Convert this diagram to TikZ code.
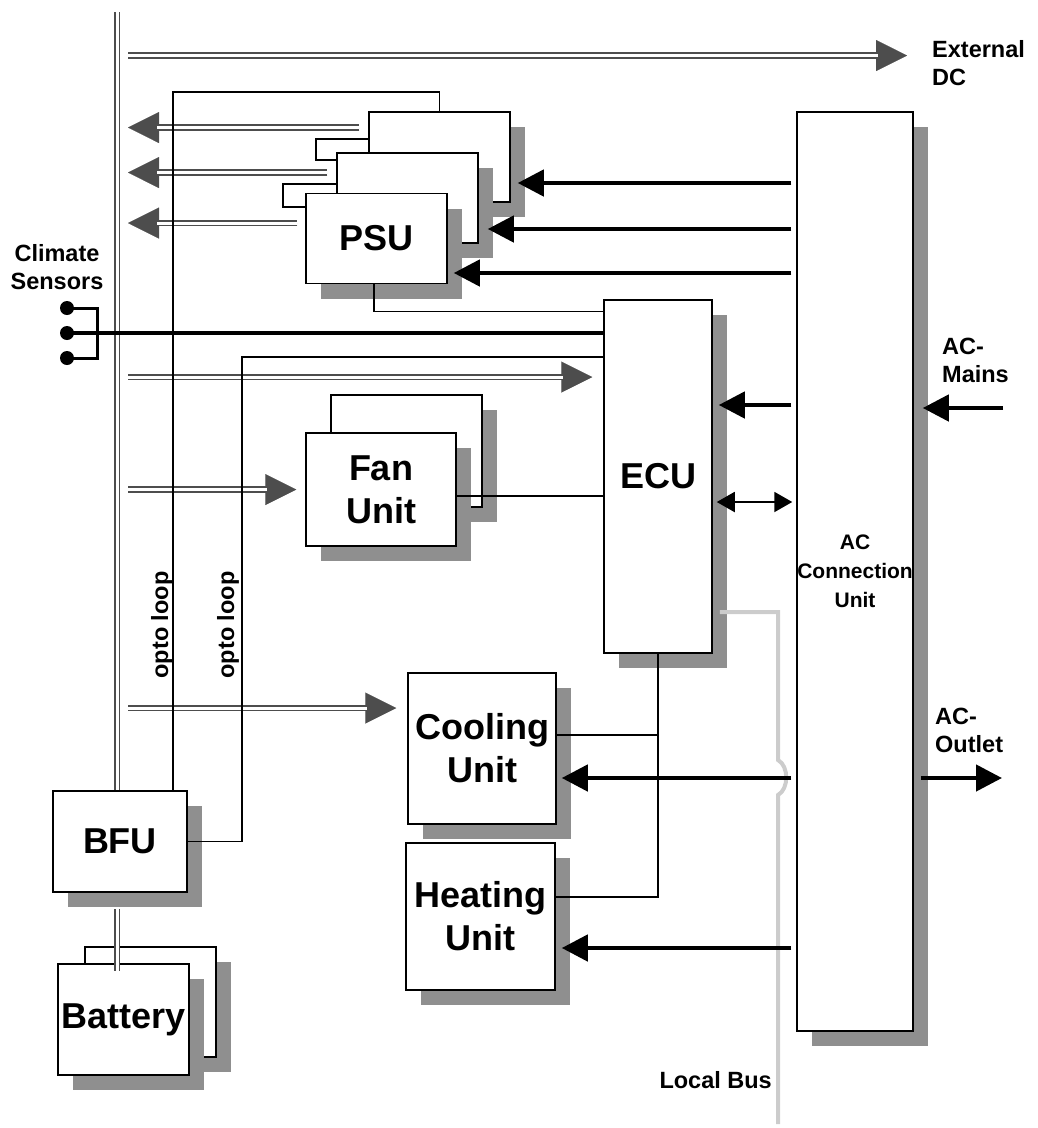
\documentclass[tikz,border=0pt]{standalone}
\usepackage{fontspec}
\setmainfont{Liberation Sans}
\usetikzlibrary{arrows.meta,shadows,calc}
\definecolor{busgray}{HTML}{4D4D4D}
\definecolor{shadowgray}{HTML}{8F8F8F}
\definecolor{lbusgray}{HTML}{CCCCCC}
\newcommand{\lblfont}{\fontsize{23.5}{28}\selectfont\bfseries}
\newcommand{\unitfont}{\fontsize{36}{43}\selectfont\bfseries}

\tikzset{
  unitbox/.style={draw, line width=1.5pt, fill=white, align=center, inner sep=2pt, font=\unitfont,
    drop shadow={shadow xshift=15pt, shadow yshift=-15pt, fill=shadowgray, opacity=1}},
  psutab/.style={draw, line width=1.5pt, fill=white, inner sep=0pt},
  bus/.style={draw=busgray, line width=1.8pt, double=white, double distance=3pt},
  busarrow/.style={draw=busgray, line width=0.01pt, -{Triangle[length=31pt,width=31pt]},
    postaction={bus, shorten >=29pt, -}},
  wire/.style={line width=1.3pt},
  feed/.style={line width=4.5pt, -{Triangle[length=26pt,width=26pt]}},
  dual/.style={line width=2pt, {Triangle[length=18pt,width=20pt]}-{Triangle[length=18pt,width=20pt]}},
  sensor/.style={line width=4.5pt},
  sensordot/.style={circle, fill, inner sep=0pt, minimum size=14pt},
  localbus/.style={draw=lbusgray, line width=4pt},
  lbl/.style={font=\lblfont, inner sep=0pt, align=left},
}

\begin{document}
\begin{tikzpicture}[x=1pt, y=-1pt]
    \useasboundingbox (0,0) rectangle (1037,1128);

    % PSU stack
    \node[psutab, minimum width=53pt, minimum height=21pt] (tabC) at (342.5,149.5) {};
    \node[unitbox, minimum width=141pt, minimum height=90pt] (psuC) at (439.5,157) {};
    \node[psutab, minimum width=54pt, minimum height=23pt] (tabB) at (310,195.5) {};
    \node[unitbox, minimum width=141pt, minimum height=90pt] (psuB) at (407.5,198) {};
    \node[unitbox, minimum width=141pt, minimum height=90pt] (psuA) at (376.5,238.5) {PSU};

    % Fan units
    \node[unitbox, minimum width=151pt, minimum height=112pt] (fanB) at (406.5,451) {};
    \node[unitbox, minimum width=150pt, minimum height=113pt] (fanA) at (381,489.5) {Fan\\Unit};

    % Control and AC units
    \node[unitbox, minimum width=108pt, minimum height=353pt] (ecu) at (658,476.5) {ECU};
    \node[unitbox, font=\fontsize{21}{29}\selectfont\bfseries, inner sep=0pt,
          minimum width=116pt, minimum height=919pt] (acu) at (855,571.5) {AC\\Connection\\Unit};
    \node[unitbox, minimum width=148pt, minimum height=151pt] (cool) at (482,748.5) {Cooling\\Unit};
    \node[unitbox, minimum width=149pt, minimum height=147pt] (heat) at (480.5,916.5) {Heating\\Unit};

    % Battery side
    \node[unitbox, minimum width=134pt, minimum height=101pt] (bfu) at (120,841.5) {BFU};
    \node[unitbox, minimum width=131pt, minimum height=110pt] (batB) at (150.5,1002) {};
    \node[unitbox, minimum width=131pt, minimum height=111pt] (batA) at (123.5,1019.5) {Battery};

    % Labels
    \node[lbl, anchor=north west] (dc) at (932,40) {External\\DC};
    \node[lbl, anchor=south, align=center] (climate) at (57,290) {Climate\\Sensors};
    \node[lbl, anchor=north west] (mains) at (942,338) {AC-\\Mains};
    \node[lbl, anchor=north west] (outlet) at (935,708) {AC-\\Outlet};
    \node[lbl, anchor=base east] (lbus) at (772,1088) {Local Bus};
    \node[lbl, rotate=90] (optoAlbl) at (162,625) {opto loop};
    \node[lbl, rotate=90] (optoBlbl) at (228,625) {opto loop};

    % Sensors
    \node[sensordot] (s1) at (67,308) {};
    \node[sensordot] (s2) at (67,333) {};
    \node[sensordot] (s3) at (67,358) {};

    % Fixed points
    \coordinate (bustop) at (117,12);
    \coordinate (tap) at (128,0);
    \coordinate (optoA) at (173,92);
    \coordinate (optoB) at (242,357);
    \coordinate (brk) at (97,333);
    \coordinate (busend) at (778,1124);
    \coordinate (mainsin) at (1003,408);
    \coordinate (outletout) at (1002,778);
    \coordinate (outC) at ($(psuC.west)+(-9,-29.5)$);
    \coordinate (outB) at ($(psuB.west)+(-9,-25.5)$);
    \coordinate (outA) at ($(psuA.west)+(-8,-15.5)$);

    % DC bus
    \draw[bus] (bustop) -- (bustop |- bfu.north);
    \draw[bus] ($(bustop |- bfu.south)+(0,16)$) -- ($(bustop |- batA.north)+(0,8)$);
    \draw[busarrow] (tap |- 0,55.5) -- ($(dc.west |- 0,55.5)+(-25,0)$);
    \draw[busarrow] (outC) -- (tap |- outC);
    \draw[busarrow] (outB) -- (tap |- outB);
    \draw[busarrow] (outA) -- (tap |- outA);
    \draw[busarrow] (tap |- 0,377) -- ($(ecu.west |- 0,377)+(-11,0)$);
    \draw[busarrow] (tap |- fanA.west) -- ($(fanA.west)+(-9,0)$);
    \draw[busarrow] (tap |- 0,708) -- ($(cool.west |- 0,708)+(-11,0)$);

    % Opto loops
    \draw[wire] (psuC.north) |- (optoA) -- (optoA |- bfu.north);
    \draw[wire] (ecu.west |- optoB) -- (optoB) |- (bfu.east);

    % Signal wires
    \draw[wire] ($(psuA.south)+(-2.5,0)$) |- (ecu.west |- 0,311.5);
    \draw[line width=3pt] (s1.center) -| (brk) |- (s3.center);
    \draw[sensor] (s2.center) -- (ecu.west |- s2);
    \draw[wire] (fanA.east |- 0,496) -- (ecu.west |- 0,496);
    \draw[wire] (heat.east |- 0,897) -| (ecu.south);
    \draw[wire] (cool.east |- 0,735) -- (ecu.south |- 0,735);

    % Local bus
    \draw[localbus] ($(ecu.east |- 0,612)+(7,0)$) -| (busend |- 0,760)
        .. controls +(11,6) and +(11,-6) .. (busend |- 0,795) -- (busend);

    % AC feeds
    \draw[feed] ($(acu.west |- psuC.east)+(-5,26)$) -- ($(psuC.east)+(7,26)$);
    \draw[feed] ($(acu.west |- psuB.east)+(-5,31)$) -- ($(psuB.east)+(9,31)$);
    \draw[feed] ($(acu.west |- psuA.east)+(-5,34.5)$) -- ($(psuA.east)+(6,34.5)$);
    \draw[feed] ($(acu.west |- 0,405)+(-5,0)$) -- ($(ecu.east |- 0,405)+(6,0)$);
    \draw[dual] ($(ecu.east |- 0,502)+(4,0)$) -- ($(acu.west |- 0,502)+(-4,0)$);
    \draw[feed] ($(acu.west |- 0,778)+(-5,0)$) -- ($(cool.east |- 0,778)+(5,0)$);
    \draw[feed] ($(acu.west |- 0,948)+(-5,0)$) -- ($(heat.east |- 0,948)+(6,0)$);
    \draw[feed] (mainsin) -- ($(acu.east |- mainsin)+(9,0)$);
    \draw[feed] ($(acu.east |- outletout)+(7,0)$) -- (outletout);

\end{tikzpicture}
\end{document}
